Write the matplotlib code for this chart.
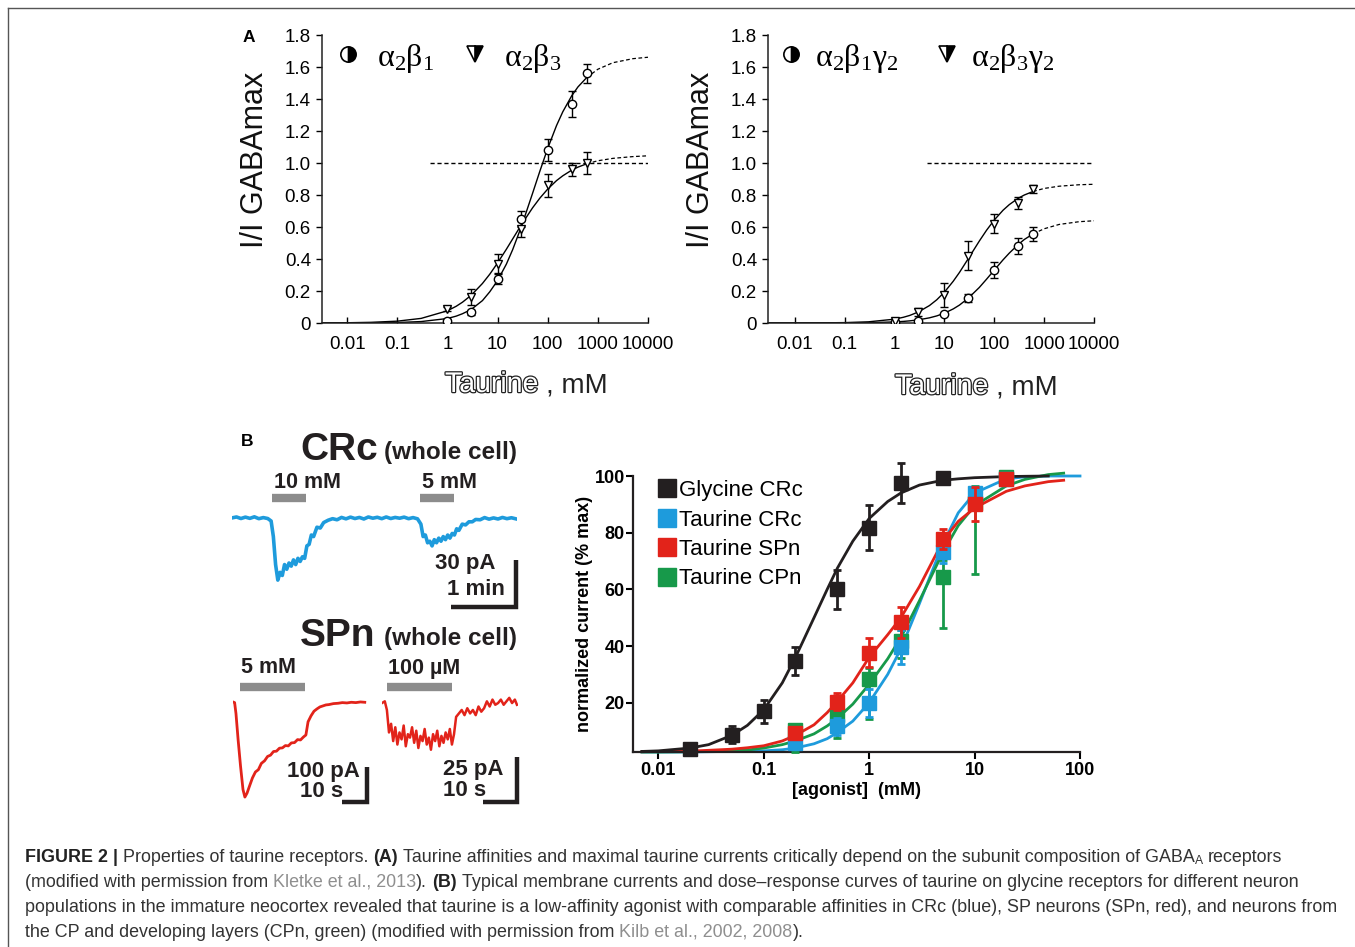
import matplotlib
matplotlib.use("Agg")
import matplotlib.pyplot as plt
from matplotlib import patheffects
from matplotlib.lines import Line2D
from matplotlib.ticker import NullLocator
import numpy as np

plt.rcParams['font.family'] = ['Liberation Sans', 'DejaVu Sans']
plt.rcParams['mathtext.fontset'] = 'custom'
plt.rcParams['mathtext.rm'] = 'Liberation Serif'
plt.rcParams['mathtext.it'] = 'Liberation Serif'

# ---------------- panel A data ----------------
a_x = [1, 3, 10, 30, 100, 300, 600]
b1_y = [0.015, 0.067, 0.275, 0.65, 1.08, 1.37, 1.56]
b1_e = [0.01, 0.015, 0.03, 0.05, 0.07, 0.08, 0.06]
b3_y = [0.087, 0.16, 0.37, 0.59, 0.86, 0.96, 1.0]
b3_e = [0.01, 0.05, 0.06, 0.05, 0.07, 0.04, 0.07]
b1g2_y = [0.005, 0.015, 0.056, 0.156, 0.33, 0.48, 0.558]
b1g2_e = [0.005, 0.005, 0.005, 0.025, 0.05, 0.05, 0.045]
b3g2_y = [0.01, 0.066, 0.177, 0.42, 0.62, 0.75, 0.84]
b3g2_e = [0.005, 0.025, 0.075, 0.09, 0.06, 0.04, 0.025]

# fitted curves
fit_x = [0.003, 0.01, 0.03, 0.1, 0.3, 1, 1.5, 2, 3, 5, 7, 10, 15, 20, 30, 50, 70,
         100, 150, 200, 300, 400, 600, 1000, 2000, 5000, 10000]
fit_b1 = [0.0001, 0.0003, 0.0009, 0.003, 0.009, 0.028, 0.043, 0.058, 0.085, 0.14, 0.195,
          0.265, 0.368, 0.458, 0.604, 0.811, 0.95, 1.091, 1.234, 1.32, 1.419, 1.475,
          1.534, 1.586, 1.627, 1.652, 1.661]
fit_b3 = [0.0006, 0.0016, 0.0042, 0.0115, 0.0288, 0.0763, 0.1046, 0.13, 0.174, 0.247,
          0.305, 0.375, 0.461, 0.525, 0.615, 0.72, 0.781, 0.837, 0.89, 0.92, 0.955, 0.974,
          0.995, 1.014, 1.029, 1.04, 1.045]
fit_b1g2 = [0.00002, 0.00007, 0.0002, 0.0007, 0.002, 0.0067, 0.01, 0.0133, 0.0197, 0.0323,
            0.0443, 0.0614, 0.088, 0.112, 0.155, 0.222, 0.274, 0.331, 0.395, 0.437, 0.49,
            0.522, 0.557, 0.589, 0.616, 0.633, 0.639]
fit_b3g2 = [0.0001, 0.00025, 0.00075, 0.0025, 0.0074, 0.024, 0.0358, 0.047, 0.069, 0.109,
            0.145, 0.193, 0.261, 0.316, 0.402, 0.512, 0.58, 0.644, 0.705, 0.74, 0.779, 0.8,
            0.822, 0.841, 0.855, 0.864, 0.867]
solid_end = 23  # fit is drawn solid up to 600 mM, dashed beyond
ref_left_x = [0.46, 10000]
ref_right_x = [4.4, 10000]

a_xticks = [0.01, 0.1, 1, 10, 100, 1000, 10000]
a_xticklabels = ['0.01', '0.1', '1', '10', '100', '1000', '10000']
a_yticks = [0, 0.2, 0.4, 0.6, 0.8, 1.0, 1.2, 1.4, 1.6, 1.8]
a_yticklabels = ['0', '0.2', '0.4', '0.6', '0.8', '1.0', '1.2', '1.4', '1.6', '1.8']

# ---------------- panel B dose-response data ----------------
gly_x = [0.02, 0.05, 0.1, 0.2, 0.5, 1, 2, 5]
gly_y = [3.5, 8.6, 16.9, 34.7, 60, 81.8, 97.6, 99.2]
gly_e = [1, 3, 4, 5, 7, 8, 7, 1]
tau_x = [0.2, 0.5, 1, 2, 5, 10, 20]
crc_y = [5.7, 11.6, 19.8, 39.8, 73.3, 93.9, 99]
crc_e = [1.5, 3, 5, 6, 4, 2, 1]
spn_y = [9.2, 20.4, 37.7, 48.4, 77.9, 90, 99]
spn_e = [1.5, 3, 5, 5.5, 3.5, 6, 1]
cpn_y = [10.5, 15.7, 28.3, 41.6, 64.5, 90.4, 99.5]
cpn_lo = [8, 8, 14, 6, 18, 25, 1]
cpn_hi = [2, 3, 4, 4, 6, 6, 1]

dr_x = [0.007, 0.01, 0.02, 0.03, 0.05, 0.07, 0.1, 0.15, 0.2, 0.3, 0.4, 0.5, 0.7, 1,
        1.5, 2, 3, 5, 7, 10, 20, 30, 50, 70, 100]
nan = float('nan')
fit_gly = [2.8, 3.0, 4.0, 5.2, 8.5, 12, 17.5, 27, 36, 50, 60, 67.5, 77, 85, 91, 94, 96.8,
           98.5, 99, 99.4, 99.8, 99.9, 100, nan, nan]
fit_crc = [2.6, 2.6, 2.6, 2.7, 2.8, 2.9, 3.0, 3.4, 4.0, 5.5, 7.3, 9.5, 13.5, 20, 30, 39,
           55, 76, 87, 94, 99, 99.7, 100, 100, 100]
fit_cpn = [2.6, 2.6, 2.7, 2.8, 3.0, 3.3, 4.0, 5.2, 6.5, 9, 11.8, 14.5, 19.5, 26.5, 35.5,
           43, 56, 73, 82.5, 89.5, 96.5, 98.8, 100.5, 101, nan]
fit_spn = [2.7, 2.8, 2.9, 3.2, 3.6, 4.1, 4.8, 6.5, 8.5, 12.2, 16.5, 20.5, 27, 36, 44, 50,
           61, 77, 84, 88.7, 94.6, 96.5, 98, 98.5, nan]
b_xticks = [0.01, 0.1, 1, 10, 100]
b_xticklabels = ['0.01', '0.1', '1', '10', '100']
b_yticks = [20, 40, 60, 80, 100]
b_names = ['Glycine CRc', 'Taurine CRc', 'Taurine SPn', 'Taurine CPn']

# ---------------- panel B current traces ----------------
crc_t = [0, 4, 8, 12, 16, 20, 24, 28, 32, 35, 37, 39, 41, 43, 45, 47, 49, 51, 53, 55, 57,
         59, 61, 63, 65, 67, 69, 71, 73, 76, 79, 82, 86, 90, 94, 98, 102, 106, 110, 114,
         118, 122, 126, 130, 134, 138, 142, 146, 150, 154, 158, 162, 166, 169, 171, 173,
         175, 177, 179, 181, 183, 185, 187, 189, 191, 193, 195, 197, 199, 201, 203, 206,
         209, 212, 215, 218, 222, 226, 230, 234, 238, 242, 246, 250, 254]
crc_i = [0, 0.6, -0.4, 0.5, -0.3, 0.7, -0.5, 0.2, -0.4,
         -2, -12, -30, -40, -35, -37, -30, -33, -29, -31, -27, -30, -26, -28, -25, -26,
         -18, -17, -11, -12,
         -6, -6.5, -3,
         -1.5, -0.5, -1.2, 0.3, -0.6, 0.5, -0.4, 0.3, -0.7, 0.6, -0.2, 0.4, -0.5, 0.6,
         -0.4, 0.3, -0.2, 0.5, -0.5, 0.2, -0.6,
         -4, -12, -11, -16, -15, -18, -14, -16, -13, -15, -12, -14, -11, -13, -10, -11,
         -7, -8,
         -4, -4.5, -2.5, -2.5, -1,
         -1.2, 0.2, -0.8, 0, -0.7, 0.3, -0.5, 0.1, -0.6]
spn1_t = [0, 0.6, 1.1, 1.9, 2.8, 3.7, 4.4, 5.2, 6.1, 7.2, 8.3, 9.4, 10.5, 11.7, 12.8, 13.9,
          15, 16.1, 17.2, 18.3, 19.4, 20.5, 21.6, 22.8, 23.9, 25, 26.1, 27, 27.8, 28.9, 30,
          31.1, 32.2, 33.3, 34.4, 35.5, 37.2, 38.9, 40.5, 42.2, 43.8, 45.5, 47.2, 48.8]
spn1_i = [0, -2, -35, -115, -195, -265, -288, -276, -255, -230, -212, -205, -186, -178,
          -165, -161, -150, -149, -140, -139, -132, -133, -124, -123, -114, -115, -106,
          -100, -60, -42, -28, -21, -15, -12, -9, -8, -5, -4, -2, -3, -1, -2, 0, -1]
spn2_t = [0, 0.8, 1.4, 2.0, 2.6, 3.2, 3.8, 4.4, 5.0, 5.6, 6.2, 6.8, 7.4, 8.0, 8.6, 9.2,
          9.8, 10.4, 11.0, 11.6, 12.2, 12.8, 13.4, 14.0, 14.6, 15.2, 15.8, 16.4, 17.0,
          17.6, 18.2, 18.8, 19.4, 20.0, 20.6, 21.2, 22.0, 22.8, 23.6, 24.4, 25.2, 26.0,
          26.8, 27.6, 28.4, 29.2, 30.0, 30.8, 31.6, 32.4, 33.2, 34.0, 34.8, 35.6, 36.4,
          37.2, 38.0, 38.6]
spn2_i = [0, 1,
          -4, -17, -12, -22, -14, -24, -17, -21, -13, -25, -18, -20, -14, -23, -16, -26,
          -19, -22, -15, -24, -20, -27, -18, -22, -16, -25, -19, -23, -17, -21, -15, -24,
          -18, -8,
          -6, -4, -7, -3, -6, -4, -7, -2, -5, -3, 1, -2, 2, -1, 0, 2, -1, 1, 3, 0, 2,
          -1]
crc_apps = [(35.5, 66.5), (168, 199)]
crc_app_labels = ['10 mM', '5 mM']
spn1_app = (2.6, 26.7)
spn2_app = (1.4, 20.0)

BLUE = '#1e9bdc'
RED = '#e2231a'
GREEN = '#17994a'
BLACK = '#231f20'
GREYBAR = '#8c8c8c'

W, H = 1355, 947
fig = plt.figure(figsize=(W / 100, H / 100), dpi=100)
fig.patch.set_facecolor('white')


def box(x0, y0, x1, y1):
    return [x0 / W, 1 - y1 / H, (x1 - x0) / W, (y1 - y0) / H]


def fx(x):
    return x / W


def fy(y):
    return 1 - y / H


# frame of the figure
fig.add_artist(Line2D([fx(8), fx(8)], [fy(8), 0], color='#555555', lw=1))
fig.add_artist(Line2D([fx(8), 1], [fy(8), fy(8)], color='#555555', lw=1))


def panel_a(ax, xmin, ys, es, fits, markers, ref_x, labels, leg_pos, leg_pad, leg_col):
    ax.set_xscale('log')
    ax.set_xlim(xmin, 1e4)
    ax.set_ylim(0, 1.8)
    for sp in ['top', 'right']:
        ax.spines[sp].set_visible(False)
    for sp in ['left', 'bottom']:
        ax.spines[sp].set_linewidth(1.1)
        ax.spines[sp].set_color('#222222')
    ax.set_xticks(a_xticks)
    ax.set_xticklabels(a_xticklabels)
    ax.xaxis.set_minor_locator(NullLocator())
    ax.set_yticks(a_yticks)
    ax.set_yticklabels(a_yticklabels)
    ax.tick_params(axis='x', direction='in', length=4, width=1, labelsize=13.5, pad=9)
    ax.tick_params(axis='y', direction='out', length=4, width=1, labelsize=13.5, pad=4)
    ax.plot(ref_x, [1, 1], color='k', lw=1, dashes=(3, 2))
    for fit in fits:
        ax.plot(fit_x[:solid_end], fit[:solid_end], color='k', lw=1)
        ax.plot(fit_x[solid_end - 1:], fit[solid_end - 1:], color='k', lw=0.9, dashes=(3, 2))
    for y, e, m in zip(ys, es, markers):
        ax.errorbar(a_x, y, yerr=e, fmt=m, mfc='white', mec='k', ms=6, mew=1,
                    ecolor='k', elinewidth=1, capsize=3, capthick=1, zorder=3)
    handles = [Line2D([], [], ls='', marker=m, ms=11, fillstyle='right', mfc='k',
                      markerfacecoloralt='white', mec='k', mew=1.2) for m in markers]
    ax.legend(handles, labels, ncol=2, frameon=False, loc='center left',
              bbox_to_anchor=leg_pos, borderpad=0, borderaxespad=0, fontsize=23,
              handlelength=1.0, handletextpad=leg_pad, columnspacing=leg_col)


axA1 = fig.add_axes(box(322, 35, 648, 323))
panel_a(axA1, 10 ** -2.5, [b1_y, b3_y], [b1_e, b3_e], [fit_b1, fit_b3], ['o', 'v'],
        ref_left_x, [r'$\mathrm{α_2β_1}$', r'$\mathrm{α_2β_3}$'], (0.03, 0.92), 0.4, 0.8)
axA2 = fig.add_axes(box(768, 35, 1094, 323))
panel_a(axA2, 10 ** -2.54, [b1g2_y, b3g2_y], [b1g2_e, b3g2_e], [fit_b1g2, fit_b3g2],
        ['o', 'v'], ref_right_x, [r'$\mathrm{α_2β_1γ_2}$', r'$\mathrm{α_2β_3γ_2}$'],
        (0.023, 0.92), 0.25, 1.0)

for xc in (255, 701):
    fig.text(fx(xc), fy(160), 'I/I GABAmax', rotation=90, fontsize=22, ha='center',
             va='center', color='#111111')
outline = [patheffects.withStroke(linewidth=1.8, foreground='#222222')]
for x0, yc in ((445, 385), (895, 387)):
    fig.text(fx(x0), fy(yc), 'Taurine', fontsize=20.5, color='white', ha='left',
             va='center', path_effects=outline)
    fig.text(fx(x0 + 101), fy(yc), ', mM', fontsize=20, color='#222222', ha='left',
             va='center')
fig.text(fx(243), fy(38), 'A', fontsize=12.5, weight='bold', va='center')
fig.text(fx(241), fy(441), 'B', fontsize=12.5, weight='bold', va='center')

# ---------------- panel B dose-response ----------------
axB = fig.add_axes(box(633, 476, 1080, 752))
axB.set_xscale('log')
axB.set_xlim(10 ** -2.24, 100)
axB.set_ylim(2.6, 100)
for sp in ['top', 'right']:
    axB.spines[sp].set_visible(False)
for sp in ['left', 'bottom']:
    axB.spines[sp].set_linewidth(1.6)
    axB.spines[sp].set_color(BLACK)
axB.set_xticks(b_xticks)
axB.set_xticklabels(b_xticklabels)
axB.xaxis.set_minor_locator(NullLocator())
axB.set_yticks(b_yticks)
axB.tick_params(axis='both', direction='out', length=5, width=1.5, labelsize=13)
axB.tick_params(axis='y', pad=1)
axB.tick_params(axis='x', pad=2)
for lab in axB.get_xticklabels() + axB.get_yticklabels():
    lab.set_fontweight('bold')
axB.set_ylabel('normalized current (% max)', fontsize=13, weight='bold', labelpad=1)
axB.set_xlabel('[agonist]  (mM)', fontsize=13, weight='bold', labelpad=2)

for fit, c in ((fit_crc, BLUE), (fit_cpn, GREEN), (fit_spn, RED), (fit_gly, BLACK)):
    axB.plot(dr_x, fit, color=c, lw=2, zorder=2, clip_on=False)

series = [
    (tau_x, cpn_y, [cpn_lo, cpn_hi], GREEN),
    (tau_x, crc_y, crc_e, BLUE),
    (tau_x, spn_y, spn_e, RED),
    (gly_x, gly_y, gly_e, BLACK),
]
for k, (xs, ys, es, c) in enumerate(series):
    cont = axB.errorbar(xs, ys, yerr=es, fmt='s', color=c, ms=9.5, elinewidth=2,
                        capsize=3, capthick=2, zorder=3 + k)
    for art in cont.get_children():
        art.set_clip_on(False)

leg_handles = [Line2D([], [], ls='', marker='s', ms=13, color=c, mec=c)
               for c in (BLACK, BLUE, RED, GREEN)]
axB.legend(leg_handles, b_names, loc='upper left', bbox_to_anchor=(0.056, 0.985),
           frameon=False, fontsize=16, handlelength=0.8, handletextpad=0.15,
           labelspacing=0.38, borderpad=0, borderaxespad=0)

# ---------------- panel B traces ----------------
fig.text(fx(300), fy(460), 'CRc', fontsize=28, weight='bold', va='baseline', color=BLACK)
fig.text(fx(384), fy(459), '(whole cell)', fontsize=17.5, weight='bold', va='baseline',
         color=BLACK)
fig.text(fx(300), fy(646), 'SPn', fontsize=28, weight='bold', va='baseline', color=BLACK)
fig.text(fx(384), fy(645), '(whole cell)', fontsize=17.5, weight='bold', va='baseline',
         color=BLACK)

tr_kw = dict(fontsize=15.5, weight='bold', color=BLACK, va='center', ha='left')
sb_kw = dict(color=BLACK, lw=3.2, solid_capstyle='butt', solid_joinstyle='miter',
             clip_on=False)
lab_kw = dict(fontsize=16, weight='bold', color=BLACK, va='center')

axT1 = fig.add_axes(box(232, 470, 517, 612))
axT1.plot(crc_t, crc_i, color=BLUE, lw=2.6)
axT1.set_xlim(0, 255)
axT1.set_ylim(-60.5, 30.8)
axT1.axis('off')
for (t0, t1), lab in zip(crc_apps, crc_app_labels):
    axT1.plot([t0, t1], [12.9, 12.9], color=GREYBAR, lw=6, solid_capstyle='butt')
    axT1.text(t0 + 2, 22.5, lab, clip_on=False, **tr_kw)
axT1.plot([196, 254, 254], [-57, -57, -27], **sb_kw)
axT1.text(181.7, -29, '30 pA', **lab_kw)
axT1.text(192.5, -46, '1 min', **lab_kw)

axT2 = fig.add_axes(box(233, 660, 368, 808))
axT2.plot(spn1_t, spn1_i, color=RED, lw=2)
axT2.set_xlim(0, 50)
axT2.set_ylim(-321, 127)
axT2.axis('off')
axT2.plot(spn1_app, [45.5, 45.5], color=GREYBAR, lw=6, solid_capstyle='butt')
axT2.text(3, 103, '5 mM', clip_on=False, **tr_kw)
axT2.plot([40.3, 49.6, 49.6], [-303, -303, -196], **sb_kw)
axT2.text(20, -210, '100 pA', **lab_kw)
axT2.text(24.8, -270, '10 s', **lab_kw)

axT3 = fig.add_axes(box(382, 660, 518, 808))
axT3.plot(spn2_t, spn2_i, color=RED, lw=1.8)
axT3.set_xlim(0, 38.9)
axT3.set_ylim(-60.7, 24.9)
axT3.axis('off')
axT3.plot(spn2_app, [9.2, 9.2], color=GREYBAR, lw=6, solid_capstyle='butt')
axT3.text(1.7, 20.2, '100 µM', clip_on=False, **tr_kw)
axT3.plot([28.9, 38.5, 38.5], [-57.2, -57.2, -31], **sb_kw)
axT3.text(17.4, -38.2, '25 pA', **lab_kw)
axT3.text(17.4, -50.8, '10 s', **lab_kw)

# ---------------- caption ----------------
cap_lines = [
    [('FIGURE 2 | ', 'b'), ('Properties of taurine receptors. ', 'r'), ('(A)', 'b'),
     (' Taurine affinities and maximal taurine currents critically depend on the subunit '
      'composition of GABA', 'r'), ('A', 's'), (' receptors', 'r')],
    [('(modified with permission from ', 'r'), ('Kletke et al., 2013', 'g'), ('). ', 'r'),
     ('(B)', 'b'), (' Typical membrane currents and dose\u2013response curves of taurine on '
                    'glycine receptors for different neuron', 'r')],
    [('populations in the immature neocortex revealed that taurine is a low-affinity agonist '
      'with comparable affinities in CRc (blue), SP neurons (SPn, red), and neurons from', 'r')],
    [('the CP and developing layers (CPn, green) (modified with permission from ', 'r'),
     ('Kilb et al., 2002, 2008', 'g'), (').', 'r')],
]
cap_targets = [1295, 1307, 1330]
cap_y = [857, 882, 907, 932]
renderer = fig.canvas.get_renderer()


def style_kw(st, size):
    if st == 'b':
        return dict(fontsize=size, weight='bold', color='#222222')
    if st == 'g':
        return dict(fontsize=size, color='#8f8f8f')
    if st == 's':
        return dict(fontsize=size * 0.68, color='#333333')
    return dict(fontsize=size, color='#333333')


def width(s, kw):
    t = fig.text(0, 0, s, **kw)
    w = t.get_window_extent(renderer).width
    t.remove()
    return w


def piece_width(s, kw):
    sw = width('a a', kw) - width('aa', kw)
    core = s.strip()
    lead = len(s) - len(s.lstrip())
    trail = len(s) - len(s.rstrip())
    return lead * sw, width(core, kw) if core else 0, trail * sw


def line_width(runs, size):
    tot = 0
    for s, st in runs:
        a, b, c = piece_width(s, style_kw(st, size))
        tot += a + b + c
    return tot


base = 12
ratios = [(tgt - 25) / line_width(cap_lines[i], base) for i, tgt in enumerate(cap_targets)]
cap_size = base * float(np.mean(ratios))

for runs, yc in zip(cap_lines, cap_y):
    x = 25
    for s, st in runs:
        kw = style_kw(st, cap_size)
        a, b, c = piece_width(s, kw)
        yy = yc + (4 if st == 's' else 0)
        fig.text(fx(x + a), fy(yy), s.strip(), va='center', ha='left', **kw)
        x += a + b + c

fig.savefig('out.png', dpi=100, facecolor='white')
